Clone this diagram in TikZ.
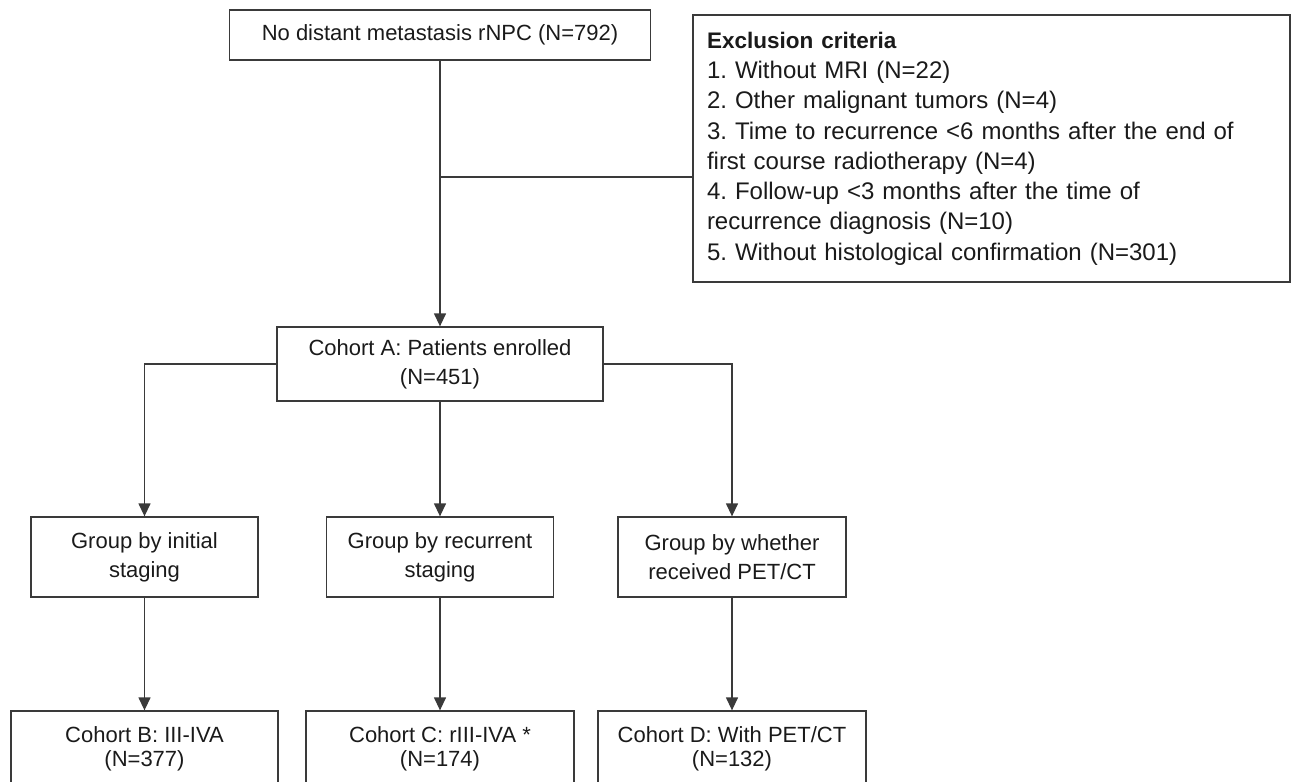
\documentclass[tikz,border=0pt]{standalone}
\usepackage{fontspec}
\setmainfont{Liberation Sans}
\usetikzlibrary{arrows.meta}
\definecolor{ln}{HTML}{3A3A3A}
\definecolor{tx}{HTML}{1A1A1A}
\frenchspacing
\tikzset{
  box/.style={draw=ln, line width=1.3pt, rectangle, inner sep=0pt, align=center, text=tx,
    font=\fontsize{22}{29}\selectfont\frenchspacing},
  link/.style={draw=ln, line width=1.3pt},
  arr/.style={link, -{Triangle[width=12pt,length=13pt]}},
}
\begin{document}
\begin{tikzpicture}[x=1pt,y=-1pt]
\useasboundingbox (0,0) rectangle (1291,782);
\clip (0,0) rectangle (1291,782);
\node[box, minimum width=597pt, minimum height=267pt, text width=569pt, align=left,
  font=\fontsize{24}{30.3}\selectfont\frenchspacing] (excl) at (991.5,148.5)
  {{\fontsize{22.5}{30.3}\selectfont\textbf{Exclusion criteria}}\\
   1. Without MRI (N=22)\\
   2. Other malignant tumors (N=4)\\
   3. Time to recurrence <6 months after the end of\\
   first course radiotherapy (N=4)\\
   4. Follow-up <3 months after the time of\\
   recurrence diagnosis (N=10)\\
   5. Without histological confirmation (N=301)};
\node[box, minimum width=421pt, minimum height=50pt] (top) at (440,35) {No distant metastasis rNPC (N=792)};
\node[box, minimum width=326pt, minimum height=74pt] (coha) at (440,364) {Cohort A: Patients enrolled\\(N=451)};
\node[box, minimum width=227pt, minimum height=80pt] (g1) at (144.5,557) {Group by initial\\staging};
\node[box, minimum width=227pt, minimum height=80pt] (g2) at (440,557) {Group by recurrent\\staging};
\node[box, minimum width=228pt, minimum height=80pt] (g3) at (732,557) {Group by whether\\received PET/CT};
\node[box, minimum width=267pt, minimum height=76pt, font=\fontsize{22}{23.5}\selectfont] (b1) at (144.5,749) {Cohort B: III-IVA\\(N=377)};
\node[box, minimum width=268pt, minimum height=76pt, font=\fontsize{22}{23.5}\selectfont] (b2) at (440,749) {Cohort C: rIII-IVA *\\(N=174)};
\node[box, minimum width=268pt, minimum height=76pt, font=\fontsize{22}{23.5}\selectfont] (b3) at (732,749) {Cohort D: With PET/CT\\(N=132)};
\coordinate (j) at (440,177);
\draw[arr] (top.south) -- (coha.north);
\draw[link] (j) -- (j -| excl.west);
\draw[arr] (coha.west) -| (g1.north);
\draw[arr] (coha.south) -- (g2.north);
\draw[arr] (coha.east) -| (g3.north);
\draw[arr] (g1.south) -- (b1.north);
\draw[arr] (g2.south) -- (b2.north);
\draw[arr] (g3.south) -- (b3.north);
\end{tikzpicture}
\end{document}
